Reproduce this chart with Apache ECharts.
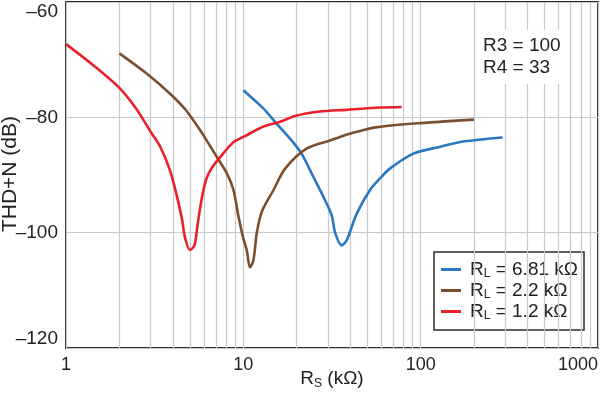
<!DOCTYPE html>
<html><head><meta charset="utf-8">
<script src="https://cdn.jsdelivr.net/npm/echarts@6/dist/echarts.min.js"></script>
<style>html,body{margin:0;padding:0;background:#fff}#c{width:600px;height:393px}</style>
</head><body><div id="c"></div>
<script>
const seriesNames = ['RL = 6.81 kΩ', 'RL = 2.2 kΩ', 'RL = 1.2 kΩ'];
const seriesColors = ['#2a78c2', '#7b4f2e', '#e8212b'];
const blueData = [[10,-75.3],[13,-78.5],[15.4,-81.1],[18.7,-84],[21.3,-86.3],[24.8,-90.3],[28.3,-93.8],[31.5,-97],[33,-100.1],[35.9,-102.2],[38.3,-101.3],[43.6,-96.7],[51.8,-92.6],[59,-90.6],[67,-88.9],[91,-86.3],[129,-85.1],[174,-84.2],[290,-83.5]];
const brownData = [[2,-68.9],[2.85,-72.4],[3.86,-75.9],[4.7,-78.6],[5.7,-82.2],[6.5,-85],[7.1,-86.9],[8.1,-89.8],[8.8,-92.6],[9.4,-97.3],[10,-101],[10.45,-103],[10.9,-106],[11.4,-104.8],[11.9,-100.1],[12.7,-96.4],[14.8,-92.6],[17.2,-88.9],[22.8,-85.4],[30.8,-84],[35,-83.4],[43.6,-82.5],[57,-81.7],[100,-81],[200,-80.4]];
const redData = [[1,-67.3],[1.43,-71.0],[2,-74.9],[2.5,-78.6],[3,-82.5],[3.4,-85.1],[3.85,-89.1],[4.2,-93.4],[4.5,-97.5],[4.7,-101],[5.0,-103],[5.3,-102.2],[5.5,-99],[5.6,-97.3],[5.9,-93.2],[6.2,-90.6],[6.6,-88.9],[7.4,-86.9],[8.8,-84.3],[10,-83.4],[13,-81.6],[16,-80.8],[20,-79.7],[27,-79],[38,-78.7],[59,-78.3],[78,-78.2]];
const minorX = [2,3,4,5,6,7,8,9,20,30,40,50,60,70,80,90,200,300,400,500,600,700,800,900];
const yTicks = [-120, -100, -80, -60];
const noteLines = ['R3 = 100', 'R4 = 33'];
const xName = '{r|R}{s|S}{r| (kΩ)}';
const yName = 'THD+N (dB)';

const FONT = 'Liberation Sans, Arial, Helvetica, sans-serif';
const TXT = '#222';
const GRIDC = '#c9c9c9';
const chart = echarts.init(document.getElementById('c'), null, {renderer: 'canvas'});
const dataSets = [blueData, brownData, redData];

const option = {
  animation: false,
  backgroundColor: '#fff',
  textStyle: {fontFamily: FONT},
  grid: {left: 66, right: 2, top: 2, bottom: 45, containLabel: false, outerBoundsMode: 'none',
    show: true, borderColor: '#2b2b2b', borderWidth: 2, backgroundColor: 'transparent'},
  xAxis: {
    type: 'log', logBase: 10, min: 1, max: 1000,
    axisLine: {show: false}, axisTick: {show: false},
    splitLine: {show: true, lineStyle: {color: GRIDC, width: 1.2}},
    axisLabel: {color: TXT, fontSize: 18, fontFamily: FONT, margin: 8, alignMaxLabel: 'right',
      formatter: v => String(Math.round(v))}
  },
  yAxis: {
    type: 'value', min: yTicks[0], max: yTicks[yTicks.length-1], interval: 20,
    axisLine: {show: false}, axisTick: {show: false},
    splitLine: {show: true, lineStyle: {color: GRIDC, width: 1.2}},
    axisLabel: {color: TXT, fontSize: 19, fontFamily: FONT, margin: 8,
      verticalAlignMaxLabel: 'top', verticalAlignMinLabel: 'bottom',
      formatter: v => String(v).replace('-', '\u2013')}
  },
  legend: {
    data: seriesNames, orient: 'vertical', right: 16, top: 252,
    icon: 'rect', itemWidth: 20, itemHeight: 3, itemGap: 1,
    borderColor: '#2b2b2b', borderWidth: 1.5, backgroundColor: '#fff', borderRadius: 0,
    padding: [8, 6, 8, 7],
    formatter: n => '{r0|R}{s|L}{r|' + n.slice(2) + '}',
    textStyle: {rich: {
      r0: {fontSize: 19, color: TXT, fontFamily: FONT, lineHeight: 21, padding: [0, 0, 0, 4]},
      r: {fontSize: 19, color: TXT, fontFamily: FONT, lineHeight: 21},
      s: {fontSize: 12, color: TXT, fontFamily: FONT, lineHeight: 12, verticalAlign: 'bottom'}
    }}
  },
  graphic: [{
    type: 'text', left: 477, top: 30, z: 50,
    style: {text: noteLines.join('\n'), font: '19px ' + FONT, fill: TXT, lineHeight: 22,
      backgroundColor: '#fff', padding: [5, 8, 5, 6]}
  }, {
    type: 'text', x: 332, y: 379, z: 50,
    style: {text: xName, align: 'center', verticalAlign: 'middle', textAlign: 'center', textVerticalAlign: 'middle',
      rich: {
        r: {fontSize: 19, fill: TXT, fontFamily: FONT, lineHeight: 22},
        s: {fontSize: 12, fill: TXT, fontFamily: FONT, lineHeight: 13, verticalAlign: 'bottom'}
      }}
  }, {
    type: 'text', x: 10, y: 174, rotation: Math.PI / 2, z: 50,
    style: {text: yName, font: '21px ' + FONT, fill: TXT, align: 'center', verticalAlign: 'middle',
      textAlign: 'center', textVerticalAlign: 'middle'}
  }],
  series: [
    {type: 'line', name: '_grid', data: [], silent: true, z: 1,
     markLine: {silent: true, symbol: 'none', label: {show: false}, animation: false,
       lineStyle: {color: GRIDC, width: 1.2, type: 'solid'},
       data: minorX.map(v => ({xAxis: v}))}}
  ].concat(seriesNames.map((n, i) => ({
    type: 'line', name: n, data: dataSets[i], showSymbol: false, symbol: 'none',
    smooth: 0.3, z: 5, color: seriesColors[i],
    lineStyle: {color: seriesColors[i], width: 2.6}
  })))
};
chart.setOption(option);
</script></body></html>
